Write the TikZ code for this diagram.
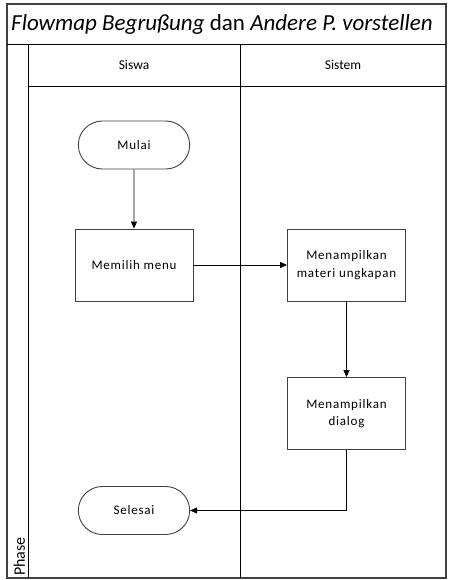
\documentclass[tikz,border=0pt]{standalone}
\usepackage{fontspec}
\setmainfont{Carlito}
\usetikzlibrary{arrows.meta,shapes.misc}
\definecolor{frame}{HTML}{404040}
\begin{document}
\begin{tikzpicture}[x=1pt,y=-1pt,
  lane/.style={draw=black, line width=0.9pt},
  nodefont/.style={font=\fontsize{13}{17.5}\selectfont\addfontfeatures{LetterSpace=6}},
  proc/.style={draw=frame, line width=0.9pt, minimum width=118pt, minimum height=72pt, align=center, nodefont, inner sep=2pt},
  term/.style={draw=frame, line width=0.9pt, rounded rectangle, minimum width=118pt, minimum height=48pt, nodefont},
  flow/.style={draw=black, line width=0.7pt, -{Triangle[length=7pt,width=6pt]}}]
\useasboundingbox (0,0) rectangle (448,580);
% frame
\draw[draw=frame, line width=1.4pt] (7,4) rectangle (446,578);
\draw[lane] (7,44) -- (446,44);
\draw[lane] (28,44) -- (28,578);
\draw[lane] (28,86) -- (446,86);
\draw[lane] (240,44) -- (240,578);
\node[anchor=west, inner sep=0pt] (title) at (11,24) {\fontsize{23}{26}\selectfont\itshape Flowmap Begrußung \upshape dan \itshape Andere P. vorstellen};
\node (siswa) at (134,65) {\fontsize{13.5}{16}\selectfont Siswa};
\node (sistem) at (343,65) {\fontsize{13.5}{16}\selectfont Sistem};
\node[rotate=90, anchor=west, font=\fontsize{16}{18}\selectfont, inner sep=0pt] (phase) at (19.5,576) {Phase};
% nodes
\node[term] (mulai) at (134,145) {Mulai};
\node[proc] (menu) at (134,265) {Memilih menu};
\node[proc] (materi) at (346.5,265) {Menampilkan\\materi ungkapan};
\node[proc] (dialog) at (346.5,413.5) {Menampilkan\\dialog};
\node[term] (selesai) at (134,510.5) {Selesai};
% connectors
\draw[flow] (mulai) -- (menu);
\draw[flow] (menu) -- (materi);
\draw[flow] (materi) -- (dialog);
\draw[flow] (dialog.south) |- (selesai.east);
\end{tikzpicture}
\end{document}
